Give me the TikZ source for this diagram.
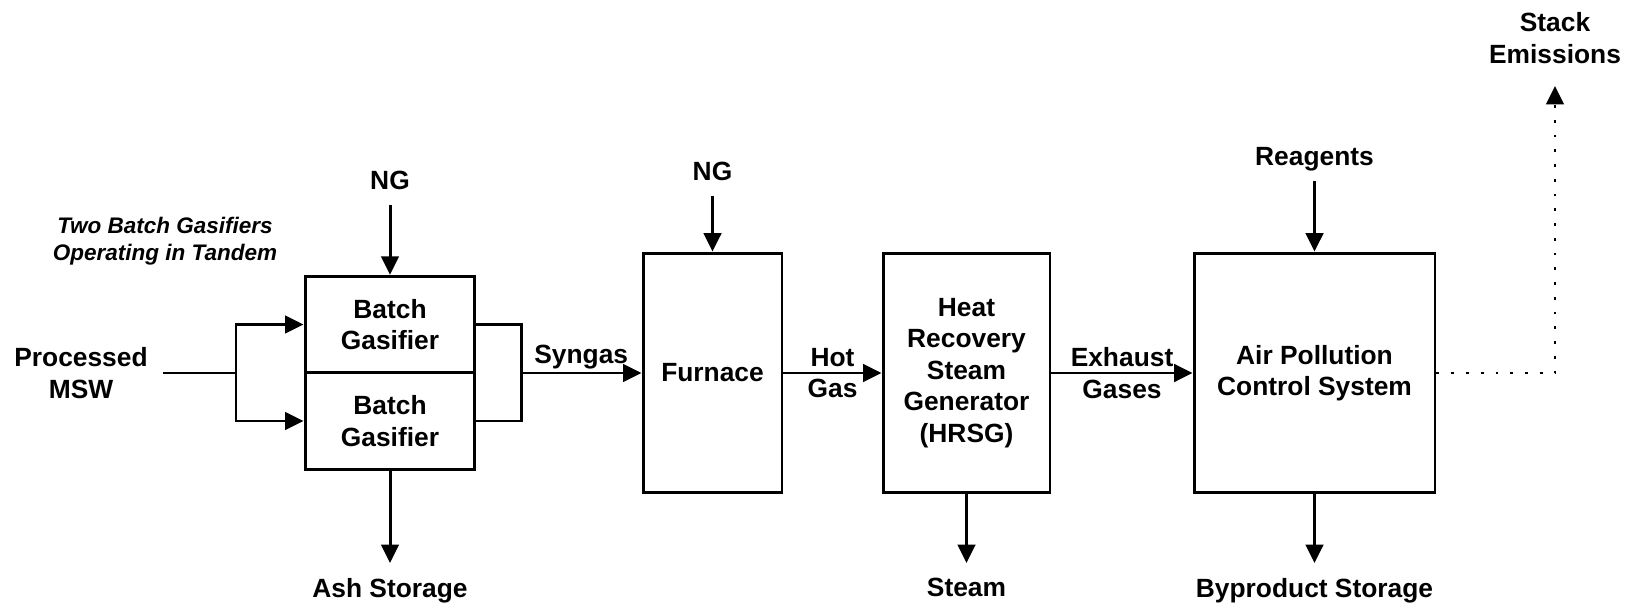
\documentclass[tikz,border=0pt]{standalone}
\usepackage{fontspec}
\setmainfont{Liberation Sans}
\usetikzlibrary{arrows.meta,positioning,calc}
\definecolor{ink}{HTML}{000000}

\begin{document}
\begin{tikzpicture}[x=0.02cm,y=-0.02cm,line width=1.7pt,draw=ink,
    font=\bfseries\fontsize{15}{18}\selectfont,
    unit/.style={draw=ink,minimum height=4.8cm,inner sep=2pt,align=center},
    txt/.style={inner sep=8pt,align=center},
    flow/.style={-{Triangle[length=10.5pt,width=10pt]}},
    dots/.style={line width=1.6pt,dash pattern=on 1.6pt off 6.8pt}]
  \useasboundingbox (0,0) rectangle (1631,607);
  % process units
  \node[unit,minimum width=3.4cm,minimum height=1.93cm] (gasA) at (390,324.5) {Batch\\Gasifier};
  \node[unit,minimum width=3.4cm,minimum height=1.93cm] (gasB) at (390,421) {Batch\\Gasifier};
  \node[unit,minimum width=2.78cm] (furn) at (712.5,373) {Furnace};
  \node[unit,minimum width=3.34cm] (hrsg) at (966.5,373) {Heat\\Recovery\\Steam\\Generator\\(HRSG)};
  \node[unit,minimum width=4.82cm] (apc) at (1314.5,373) {Air Pollution\\Control System};
  % streams in and out
  \node[txt] (msw) at (81,373) {Processed\\MSW};
  \node[align=center,font=\bfseries\itshape\fontsize{12.8}{15.3}\selectfont] (note) at (165,241)
    {Two Batch Gasifiers\\Operating in Tandem};
  \node[txt,anchor=south] (ng1) at (390,205) {NG};
  \node[txt,anchor=south] (ng2) at (712.5,196) {NG};
  \node[txt,inner ysep=5pt,anchor=south] (reag) at (1314.5,181) {Reagents};
  \node[txt,anchor=north] (ash) at (390,563) {Ash Storage};
  \node[txt,anchor=north] (steam) at (966.5,563) {Steam};
  \node[txt,anchor=north] (byprod) at (1314.5,563) {Byproduct Storage};
  \node[txt,inner ysep=12pt,anchor=south] (stack) at (1555,86) {Stack\\Emissions};
  \coordinate (split) at (236,373);
  \coordinate (merge) at (521,373);
  % connectors
  \draw (msw.east) -- (split);
  \draw[flow] (split) |- (gasA.west);
  \draw[flow] (split) |- (gasB.west);
  \draw (gasA.east) -| (merge) |- (gasB.east);
  \draw[flow] (merge) -- node[above,inner sep=1.5pt] (syn) {Syngas} (furn.west);
  \draw[flow] (furn.east) -- node[align=center] (hot) {Hot\\Gas} (hrsg.west);
  \draw[flow] (hrsg.east) -- node[align=center] (exh) {Exhaust\\Gases} (apc.west);
  \foreach \src/\dst in {ng1/gasA,ng2/furn,reag/apc} {
    \draw[flow] (\src.south) -- (\dst.north);
  }
  \foreach \src/\dst in {gasB/ash,hrsg/steam,apc/byprod} {
    \draw[flow] (\src.south) -- (\dst.north);
  }
  \draw[flow,dots] (apc.east) -| (stack.south);
\end{tikzpicture}
\end{document}
